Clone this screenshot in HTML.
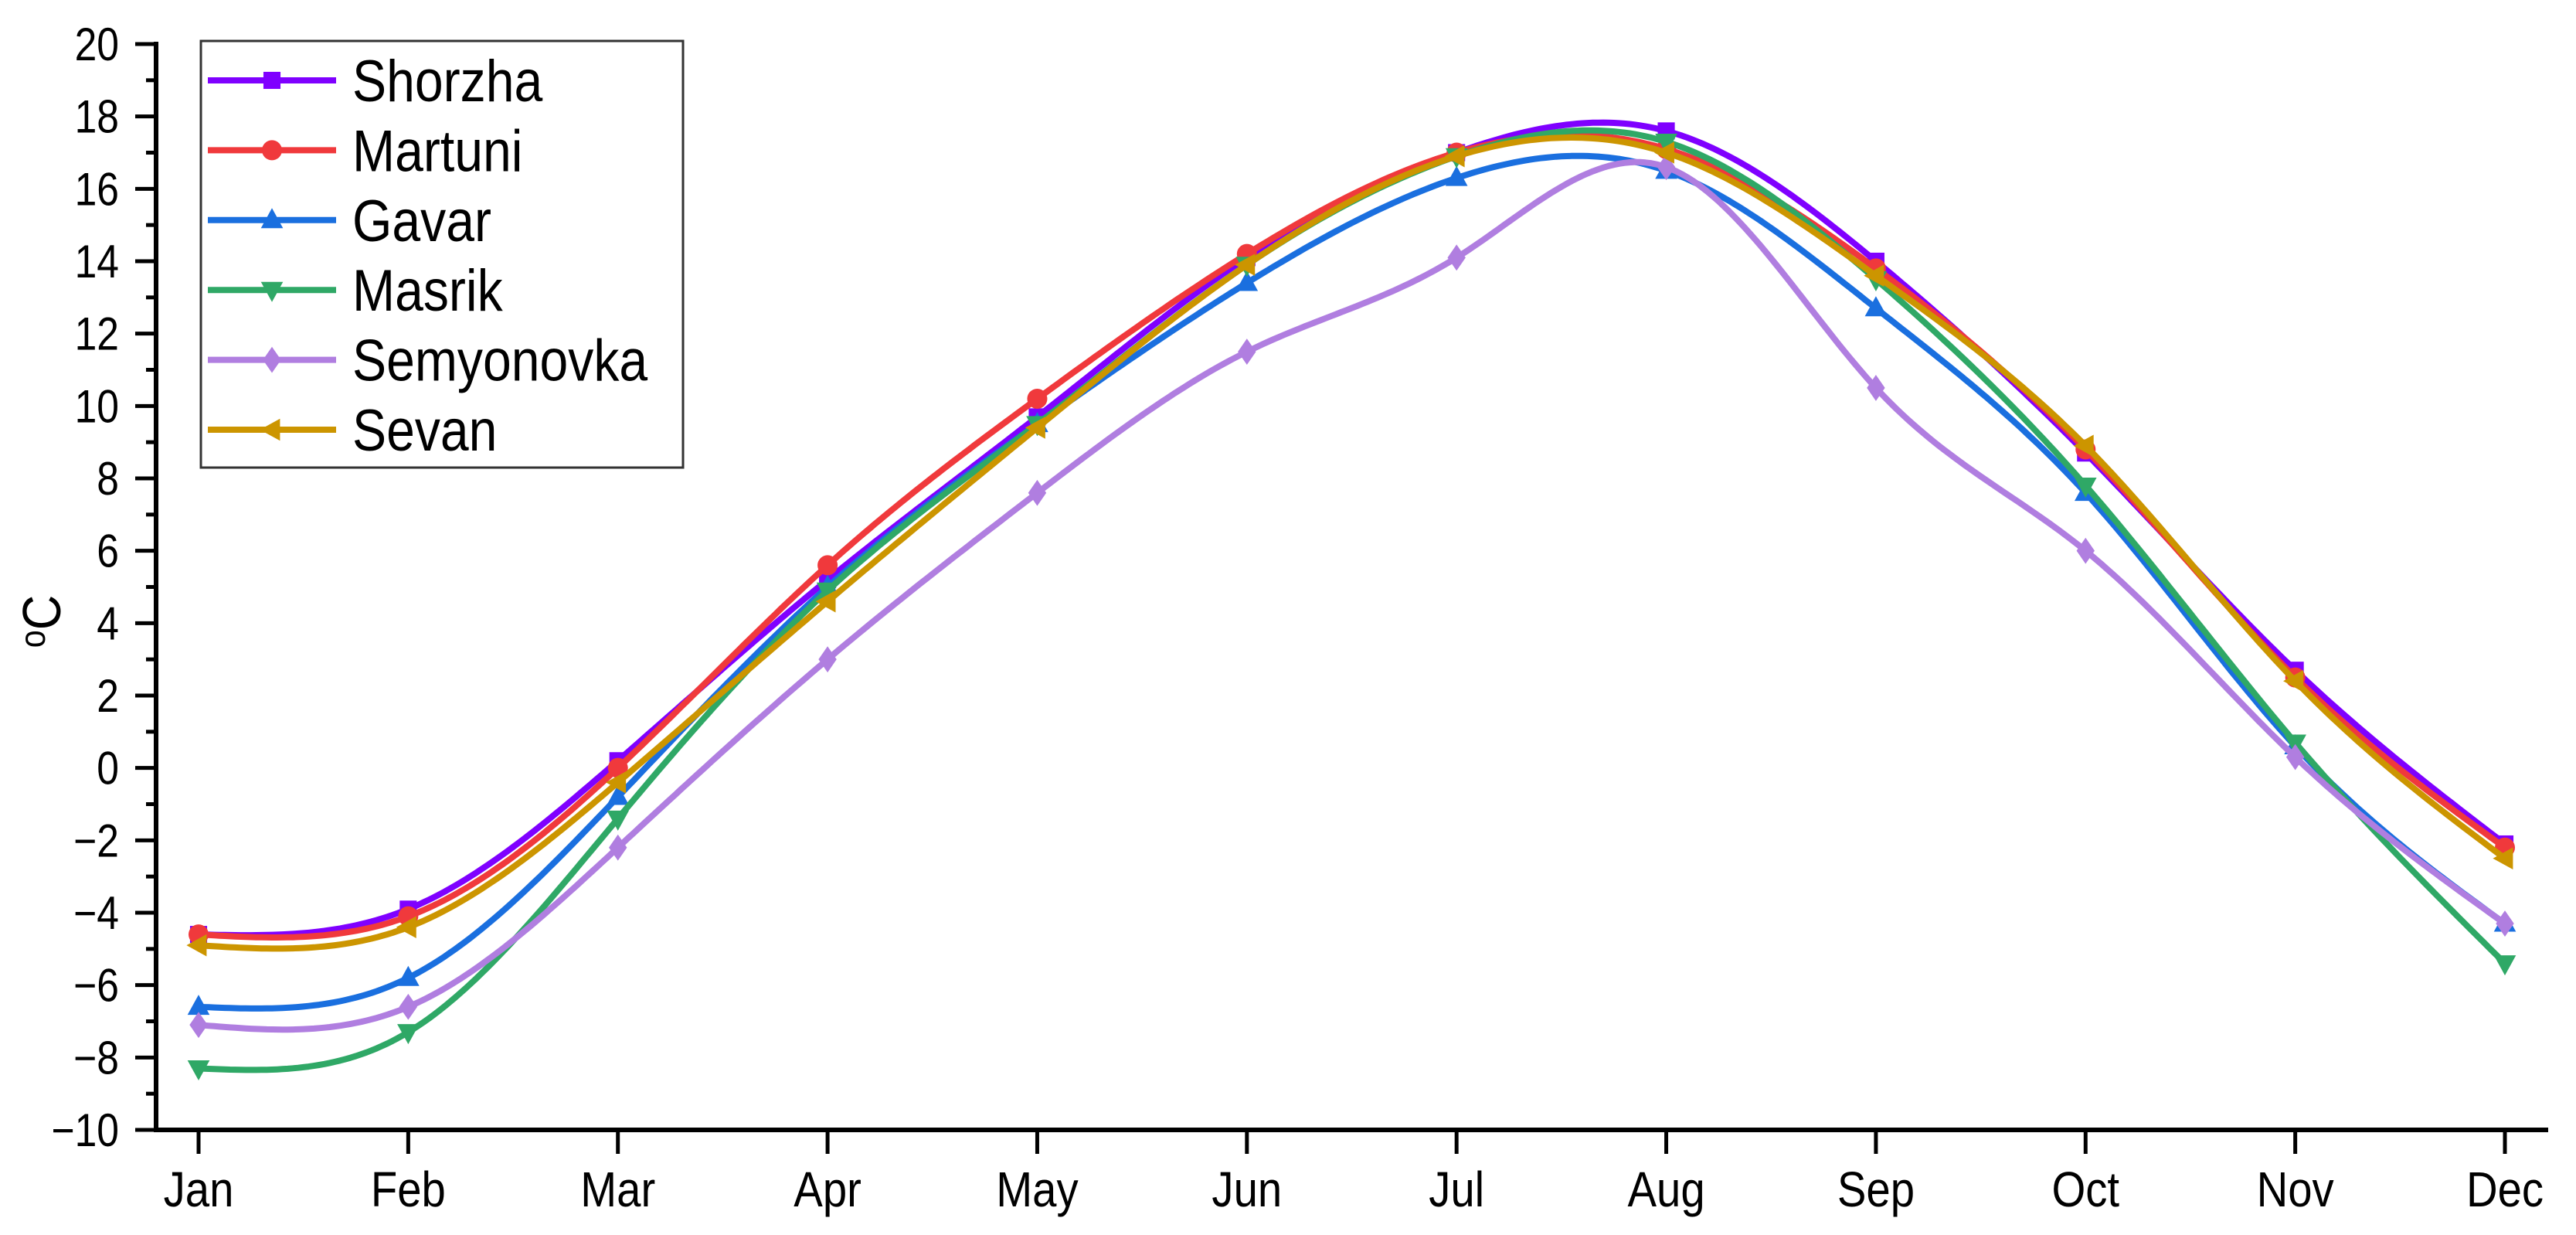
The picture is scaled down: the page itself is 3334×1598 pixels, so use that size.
<!DOCTYPE html>
<html><head><meta charset="utf-8">
<style>
html,body{margin:0;padding:0;background:#fff;}
svg{display:block;font-family:"Liberation Sans",Arial,sans-serif;}
</style></head>
<body>
<svg id="chart" width="3334" height="1598" viewBox="0 0 3334 1598" xmlns="http://www.w3.org/2000/svg">
<g id="axes"></g>
<g id="series"></g>
<g id="legend"></g>
<text transform="translate(78,804) rotate(-90) scale(0.9,1)" text-anchor="middle" font-size="70"><tspan font-size="46" dy="-20">o</tspan><tspan dy="20">C</tspan></text>
</svg>
<script>
const months = ["Jan","Feb","Mar","Apr","May","Jun","Jul","Aug","Sep","Oct","Nov","Dec"];
const yTicks = [-10,-8,-6,-4,-2,0,2,4,6,8,10,12,14,16,18,20];
const seriesNames = ["Shorzha","Martuni","Gavar","Masrik","Semyonovka","Sevan"];
const shorzha = [-4.6,-3.9,0.2,5.2,9.7,14.1,17.0,17.6,14.0,8.7,2.7,-2.1];
const martuni = [-4.6,-4.1,0.0,5.6,10.2,14.2,17.0,17.1,13.8,8.8,2.5,-2.2];
const gavar = [-6.6,-5.8,-0.8,5.0,9.5,13.4,16.3,16.5,12.7,7.6,0.6,-4.3];
const masrik = [-8.3,-7.3,-1.4,4.9,9.5,13.9,16.9,17.3,13.5,7.8,0.7,-5.4];
const semyonovka = [-7.1,-6.6,-2.2,3.0,7.6,11.5,14.1,16.6,10.5,6.0,0.3,-4.3];
const sevan = [-4.9,-4.4,-0.4,4.6,9.4,13.9,16.9,17.0,13.6,8.9,2.4,-2.5];

const seriesData=[shorzha,martuni,gavar,masrik,semyonovka,sevan];
const colors=["#7f00ff","#f0393c","#1a6fdf","#2fa866","#b07ee0","#cc9500"];
const markers=["square","circle","up","down","diamond","left"];
const NS="http://www.w3.org/2000/svg";
const X0=257,X1=3242,YB=1462,YT=57,VMIN=-10,VMAX=20;
const xs=i=>X0+(X1-X0)*i/(months.length-1);
const ys=v=>YB-(v-VMIN)/(VMAX-VMIN)*(YB-YT);
function mk(tag,attrs,parent){const e=document.createElementNS(NS,tag);for(const k in attrs)e.setAttribute(k,attrs[k]);parent.appendChild(e);return e;}
const axes=document.getElementById('axes');
let a=mk('line',{x1:202,y1:YB,x2:3298,y2:YB,stroke:'#000','stroke-width':6},axes);

a=mk('line',{x1:202,y1:YB+3,x2:202,y2:YT-3,stroke:'#000','stroke-width':6},axes);

yTicks.forEach(v=>{
  const y=ys(v);
  let t=mk('line',{x1:175,y1:y,x2:202,y2:y,stroke:'#000','stroke-width':5},axes);
  
  let l=mk('text',{transform:'translate(154,'+(y+21)+') scale(0.86,1)','text-anchor':'end','font-size':60},axes);
  l.textContent=v<0?'\u2212'+Math.abs(v):String(v);
  
  if(v<VMAX){const ym=ys(v+1);
    let m=mk('line',{x1:189,y1:ym,x2:202,y2:ym,stroke:'#000','stroke-width':5},axes);
    }
});
months.forEach((m,i)=>{
  const x=xs(i);
  let t=mk('line',{x1:x,y1:YB,x2:x,y2:1493,stroke:'#000','stroke-width':5},axes);
  
  let l=mk('text',{transform:'translate('+x+',1561) scale(0.88,1)','text-anchor':'middle','font-size':64},axes);
  l.textContent=m;
  
});
function spline(xv,yv){
  const n=xv.length,h=[],al=[],l=[1],mu=[0],z=[0],c=new Array(n).fill(0),b=[],d=[];
  for(let i=0;i<n-1;i++)h[i]=xv[i+1]-xv[i];
  for(let i=1;i<n-1;i++)al[i]=3/h[i]*(yv[i+1]-yv[i])-3/h[i-1]*(yv[i]-yv[i-1]);
  for(let i=1;i<n-1;i++){l[i]=2*(xv[i+1]-xv[i-1])-h[i-1]*mu[i-1];mu[i]=h[i]/l[i];z[i]=(al[i]-h[i-1]*z[i-1])/l[i];}
  for(let j=n-2;j>=0;j--){c[j]=z[j]-mu[j]*c[j+1];b[j]=(yv[j+1]-yv[j])/h[j]-h[j]*(c[j+1]+2*c[j])/3;d[j]=(c[j+1]-c[j])/(3*h[j]);}
  const pts=[];
  for(let j=0;j<n-1;j++)for(let s=0;s<40;s++){const t=h[j]*s/40;pts.push([xv[j]+t,yv[j]+b[j]*t+c[j]*t*t+d[j]*t*t*t]);}
  pts.push([xv[n-1],yv[n-1]]);return pts;
}
function marker(type,x,y,col,parent,r){
  let e;
  if(type==='square')e=mk('rect',{x:x-r*0.85,y:y-r*0.85,width:r*1.7,height:r*1.7,fill:col},parent);
  else if(type==='circle')e=mk('circle',{cx:x,cy:y,r:r,fill:col},parent);
  else{let p;
    if(type==='up')p=[[x,y-r*1.2],[x+r*1.1,y+r*0.8],[x-r*1.1,y+r*0.8]];
    if(type==='down')p=[[x,y+r*1.2],[x+r*1.1,y-r*0.8],[x-r*1.1,y-r*0.8]];
    if(type==='left')p=[[x-r*1.2,y],[x+r*0.8,y-r*1.1],[x+r*0.8,y+r*1.1]];
    if(type==='diamond')p=[[x,y-r*1.3],[x+r*0.9,y],[x,y+r*1.3],[x-r*0.9,y]];
    e=mk('polygon',{points:p.map(q=>q.join(',')).join(' '),fill:col},parent);}
  return e;
}
const sg=document.getElementById('series');
seriesData.forEach((vals,k)=>{
  const g=mk('g',{},sg);
  
  
  const pts=spline(vals.map((v,i)=>xs(i)),vals.map(v=>ys(v)));
  const p=mk('path',{d:'M'+pts.map(q=>q[0].toFixed(1)+','+q[1].toFixed(1)).join('L'),fill:'none',stroke:colors[k],'stroke-width':8,'stroke-linejoin':'round'},g);
  
  
  vals.forEach((v,i)=>{
    const m=marker(markers[k],xs(i),ys(v),colors[k],g,13);
    
    
  });
});
const lg=document.getElementById('legend');
let box=mk('rect',{x:260,y:53,width:624,height:552,fill:'#fff',stroke:'#333','stroke-width':3},lg);

seriesNames.forEach((n,k)=>{
  const y=104+k*90.4;
  const g=mk('g',{},lg);
  
  
  mk('line',{x1:269,y1:y,x2:435,y2:y,stroke:colors[k],'stroke-width':8},g);
  marker(markers[k],352,y,colors[k],g,13);
  const t=mk('text',{transform:'translate(456,'+(y+27)+') scale(0.87,1)','font-size':76},g);
  t.textContent=n;
});
</script>
</body></html>
